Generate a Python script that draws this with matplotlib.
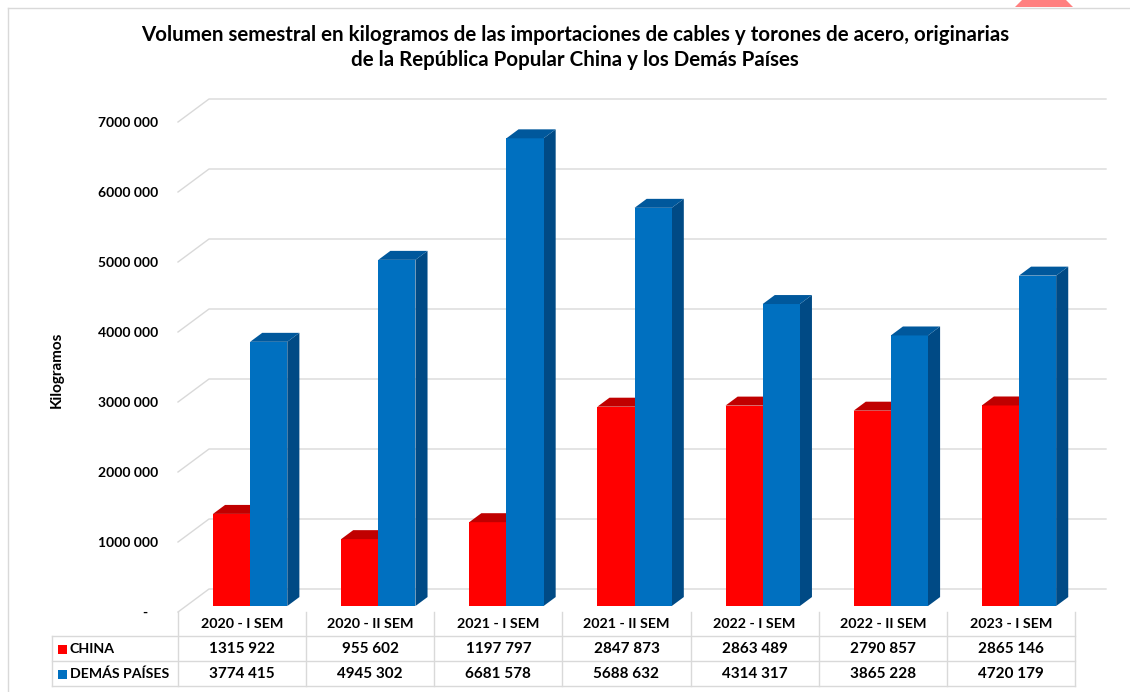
import numpy as np
import matplotlib
matplotlib.use('Agg')
import matplotlib.pyplot as plt
from matplotlib.patches import Polygon, Rectangle
from matplotlib.lines import Line2D
from matplotlib.transforms import blended_transform_factory

# data
categories = ['2020 - I SEM', '2020 - II SEM', '2021 - I SEM', '2021 - II SEM',
              '2022 - I SEM', '2022 - II SEM', '2023 - I SEM']
china = [1315922, 955602, 1197797, 2847873, 2863489, 2790857, 2865146]
demas = [3774415, 4945302, 6681578, 5688632, 4314317, 3865228, 4720179]
series_names = ['CHINA', 'DEMÁS PAÍSES']
yticks = [0, 1000000, 2000000, 3000000, 4000000, 5000000, 6000000, 7000000]

title_1 = 'Volumen semestral en kilogramos de las importaciones de cables y torones de acero, originarias'
title_2 = 'de la República Popular China y los Demás Países'

plt.rcParams['font.family'] = ['Lato', 'DejaVu Sans']

RED, RED_TOP, RED_SIDE = '#ff0000', '#c00000', '#a80000'
BLUE, BLUE_TOP, BLUE_SIDE = '#0070c0', '#00589c', '#004a85'
GRID = '#d9d9d9'


def fmt(v):
    if v == 0:
        return '-   '
    return f"{v // 1000} {v % 1000:03d}"


W, H = 1130, 692
fig = plt.figure(figsize=(W / 100, H / 100), dpi=100)


def fx(px):
    return px / W


def fy(py):
    return 1 - py / H


n = len(categories)
depth_x = 0.242      # wall depth in category units
depth_y = 328571     # wall depth in kg units
ax = fig.add_axes([fx(178), fy(612), fx(1106) - fx(178), fy(99) - fy(612)])
ax.set_xlim(0, n + depth_x)
ax.set_ylim(0, yticks[-1] + depth_y)
for s in ax.spines.values():
    s.set_visible(False)
ax.set_xticks([])
ax.set_yticks(yticks)
ax.set_yticklabels([fmt(v) for v in yticks], fontweight='bold', fontsize=10)
ax.tick_params(axis='y', length=0, pad=14)

# back wall gridlines with slanted side wall
for v in yticks:
    ax.plot([0, depth_x, n + depth_x], [v, v + depth_y, v + depth_y],
            color=GRID, lw=1, zorder=1, clip_on=False)

bw = 0.29      # bar width
f1 = 0.26      # depth of bar front face
bd = 0.39      # bar depth


def bar3d(x0, v, front, top, side, z):
    xs = x0 + f1 * depth_x
    b = f1 * depth_y
    ddx, ddy = bd * depth_x, bd * depth_y
    ax.add_patch(Polygon([(xs + bw, b), (xs + bw + ddx, b + ddy),
                          (xs + bw + ddx, b + v + ddy), (xs + bw, b + v)],
                         closed=True, facecolor=side, edgecolor='none', zorder=z))
    ax.bar(xs, v, width=bw, bottom=b, align='edge', color=front, zorder=z + 1)
    ax.add_patch(Polygon([(xs, b + v), (xs + bw, b + v),
                          (xs + bw + ddx, b + v + ddy), (xs + ddx, b + v + ddy)],
                         closed=True, facecolor=top, edgecolor='none', zorder=z + 1))


for i in range(n):
    bar3d(i + 0.5 - bw, china[i], RED, RED_TOP, RED_SIDE, 2)
    bar3d(i + 0.5, demas[i], BLUE, BLUE_TOP, BLUE_SIDE, 4)

# data table
tr = blended_transform_factory(ax.transData, fig.transFigure)
rows = [china, demas]
row_y = [649, 674]
for i, cat in enumerate(categories):
    ax.text(i + 0.5, fy(624), cat, transform=tr, ha='center', va='center',
            fontsize=10.3, fontweight='bold', clip_on=False)
    for r, vals in enumerate(rows):
        ax.text(i + 0.5, fy(row_y[r]), fmt(vals[i]), transform=tr, ha='center',
                va='center', fontsize=11, fontweight='bold', clip_on=False)
for i in range(n + 1):
    ax.add_line(Line2D([i, i], [fy(612), fy(686)], transform=tr, color=GRID,
                       lw=1, clip_on=False))
for yy in [636, 661, 686]:
    fig.add_artist(Line2D([fx(52), fx(1075)], [fy(yy), fy(yy)], color=GRID, lw=1))
fig.add_artist(Line2D([fx(52), fx(52)], [fy(636), fy(686)], color=GRID, lw=1))

for r, (name, col) in enumerate(zip(series_names, [RED, BLUE])):
    fig.add_artist(Rectangle((fx(58), fy(row_y[r] + 4.5)), fx(9), 9 / H,
                             facecolor=col, edgecolor='none'))
    fig.text(fx(70), fy(row_y[r]), name, ha='left', va='center',
             fontsize=10.2, fontweight='bold')

# titles and axis label
fig.text(fx(575), fy(35), title_1, ha='center', va='center', fontsize=14.8, fontweight='bold')
fig.text(fx(575), fy(60), title_2, ha='center', va='center', fontsize=14.8, fontweight='bold')
fig.text(fx(57), fy(370), 'Kilogramos', rotation=90, ha='center', va='center',
         fontsize=11, fontweight='bold')

# chart frame and the clipped shape at the top
fig.add_artist(Line2D([fx(8), fx(1130)], [fy(8), fy(8)], color=GRID, lw=1))
fig.add_artist(Line2D([fx(8), fx(8)], [fy(8), fy(692)], color=GRID, lw=1))
fig.add_artist(Polygon([(fx(1015), fy(7)), (fx(1022), fy(0)), (fx(1066), fy(0)),
                        (fx(1073), fy(7))], closed=True, facecolor='#ff8080',
                       edgecolor='none'))

fig.savefig('out.png', dpi=100)
